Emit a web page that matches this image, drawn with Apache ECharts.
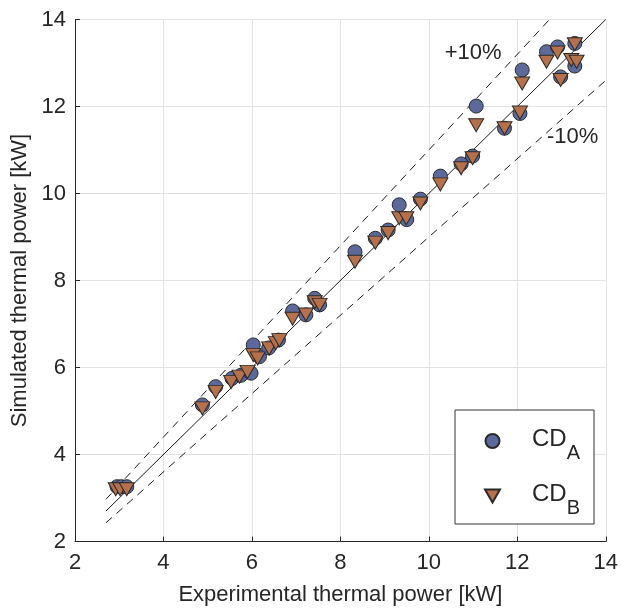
<!DOCTYPE html>
<html>
<head>
<meta charset="utf-8">
<script src="https://cdn.jsdelivr.net/npm/echarts@6/dist/echarts.min.js"></script>
<style>
html,body{margin:0;padding:0;background:#fff;}
#chart{width:621px;height:613px;}
</style>
</head>
<body>
<div id="chart"></div>
<script>
// Experimental vs simulated thermal power [kW]
const cdA = [
  [2.95,3.26],[3.05,3.26],[3.17,3.26],
  [4.88,5.14],[5.18,5.56],[5.55,5.75],[5.75,5.82],[5.98,5.87],[6.03,6.52],[6.17,6.25],[6.38,6.45],[6.60,6.63],
  [6.92,7.30],[7.22,7.21],[7.42,7.59],[7.53,7.44],
  [8.33,8.66],[8.79,8.97],[9.08,9.16],[9.33,9.74],[9.50,9.40],[9.81,9.87],[10.26,10.40],[10.73,10.68],[10.99,10.86],
  [11.07,12.01],[11.71,11.50],[12.06,11.84],[12.11,12.84],[12.66,13.26],[12.91,13.37],[12.98,12.68],[13.30,13.45],[13.30,12.93]
];
const cdB = [
  [2.92,3.20],[3.02,3.20],[3.17,3.20],
  [4.88,5.06],[5.18,5.44],[5.53,5.67],[5.72,5.79],[5.90,5.90],[6.03,6.29],[6.13,6.21],[6.39,6.44],[6.54,6.56],[6.62,6.63],
  [6.92,7.12],[7.22,7.22],[7.42,7.50],[7.53,7.44],
  [8.33,8.43],[8.79,8.87],[9.08,9.09],[9.33,9.43],[9.49,9.43],[9.81,9.77],[10.26,10.21],[10.73,10.58],[10.99,10.81],
  [11.07,11.57],[11.71,11.50],[12.06,11.86],[12.11,12.53],[12.66,13.03],[12.91,13.24],[12.98,12.61],[13.30,13.43],[13.22,13.07],[13.34,13.03]
];
const seriesNames = ['CD_A','CD_B'];
const xTicks = [2,4,6,8,10,12,14];
const yTicks = [2,4,6,8,10,12,14];
const lineStart = 2.7, lineEnd = 14;
const bandFactors = [1.1, 0.9];   // +10% / -10%
const bandLabels = ['+10%', '-10%'];

const FONT = 'Liberation Sans, Arial, sans-serif';
const TXT = '#262626';
const circleColor = '#5b6a9a';
const triColor = '#b5704c';
const triPath = 'path://M0,0L20,0L10,17.3Z';

function diag(f){
  const x1 = lineStart, x2 = Math.min(lineEnd, 14 / f);
  return [[x1, x1*f],[x2, x2*f]];
}

const chart = echarts.init(document.getElementById('chart'), null, {renderer:'canvas'});
const axisCommon = {
  type:'value', min:2, max:14, interval:2,
  axisLine:{show:true, onZero:false, lineStyle:{color:TXT, width:1}},
  axisTick:{show:true, inside:true, length:5, lineStyle:{color:TXT}},
  splitLine:{show:true, lineStyle:{color:'#e3e3e3', width:1}},
  axisLabel:{color:TXT, fontFamily:FONT, fontSize:22},
  nameLocation:'middle',
  nameTextStyle:{color:TXT, fontFamily:FONT, fontSize:22}
};
chart.setOption({
  animation:false,
  backgroundColor:'#ffffff',
  grid:{left:75, right:13, top:19.5, bottom:71.5, containLabel:false},
  xAxis:Object.assign({}, axisCommon, {name:'Experimental thermal power [kW]', nameGap:42,
    axisLabel:Object.assign({}, axisCommon.axisLabel, {margin:10})}),
  yAxis:Object.assign({}, axisCommon, {name:'Simulated thermal power [kW]', nameGap:42,
    axisLabel:Object.assign({}, axisCommon.axisLabel, {margin:9})}),
  legend:{
    orient:'vertical', left:455, top:410,
    data:seriesNames,
    backgroundColor:'#fff', borderColor:'#333', borderWidth:1, borderRadius:0,
    padding:[17,14,6,29], itemGap:19, itemWidth:15, itemHeight:14,
    formatter:function(n){ const p = n.split('_'); return '{a|'+p[0]+'}{s|'+p[1]+'}'; },
    textStyle:{
      color:TXT, fontFamily:FONT, padding:[0,0,0,27],
      rich:{
        a:{fontSize:24, fontFamily:FONT, color:TXT, lineHeight:28, verticalAlign:'top'},
        s:{fontSize:20, fontFamily:FONT, color:TXT, lineHeight:28, padding:[16,0,0,0], verticalAlign:'top'}
      }
    }
  },
  series:[
    {type:'line', data:diag(1), symbol:'none', silent:true, lineStyle:{color:'#1a1a1a', width:1}, z:1},
    {type:'line', data:diag(bandFactors[0]), symbol:'none', silent:true, lineStyle:{color:'#1a1a1a', width:1, type:[8,6]}, z:1},
    {type:'line', data:diag(bandFactors[1]), symbol:'none', silent:true, lineStyle:{color:'#1a1a1a', width:1, type:[8,6]}, z:1},
    {type:'scatter', name:'CD_A', data:cdA, symbol:'circle', symbolSize:14,
      itemStyle:{color:circleColor, borderColor:'#2a2a2a', borderWidth:1, opacity:1}, z:3},
    {type:'scatter', name:'CD_B', data:cdB, symbol:triPath, symbolSize:[15,13],
      itemStyle:{color:triColor, borderColor:'#2a2a2a', borderWidth:1, opacity:1}, z:4},
    {type:'scatter', data:[[11.0,13.22],[13.25,11.3]], symbolSize:0, silent:true, z:5,
      itemStyle:{color:'transparent'},
      label:{show:true, position:'inside', fontFamily:FONT, fontSize:22, color:TXT,
        textBorderWidth:0, opacity:1,
        formatter:function(p){ return bandLabels[p.dataIndex]; }}}
  ]
});
</script>
</body>
</html>
